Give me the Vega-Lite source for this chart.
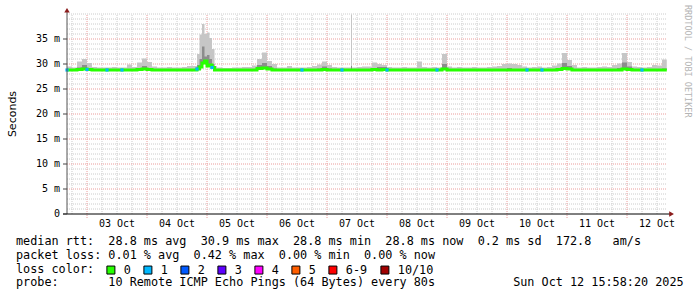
{
  "$schema": "https://vega.github.io/schema/vega-lite/v6.json",
  "width": 600,
  "height": 200,
  "autosize": {"type": "none"},
  "padding": {"left": 67, "top": 14, "right": 30, "bottom": 83},
  "background": "white",
  "config": {"view": {"stroke": null}},
  "datasets": {
    "one": [{}],
    "vmin": [
      {"t":"2025-10-02T18:00:00"},
      {"t":"2025-10-03T06:00:00"},{"t":"2025-10-03T12:00:00"},{"t":"2025-10-03T18:00:00"},
      {"t":"2025-10-04T06:00:00"},{"t":"2025-10-04T12:00:00"},{"t":"2025-10-04T18:00:00"},
      {"t":"2025-10-05T06:00:00"},{"t":"2025-10-05T12:00:00"},{"t":"2025-10-05T18:00:00"},
      {"t":"2025-10-06T06:00:00"},{"t":"2025-10-06T12:00:00"},{"t":"2025-10-06T18:00:00"},
      {"t":"2025-10-07T06:00:00"},{"t":"2025-10-07T12:00:00"},{"t":"2025-10-07T18:00:00"},
      {"t":"2025-10-08T06:00:00"},{"t":"2025-10-08T12:00:00"},{"t":"2025-10-08T18:00:00"},
      {"t":"2025-10-09T06:00:00"},{"t":"2025-10-09T12:00:00"},{"t":"2025-10-09T18:00:00"},
      {"t":"2025-10-10T06:00:00"},{"t":"2025-10-10T12:00:00"},{"t":"2025-10-10T18:00:00"},
      {"t":"2025-10-11T06:00:00"},{"t":"2025-10-11T12:00:00"},{"t":"2025-10-11T18:00:00"},
      {"t":"2025-10-12T06:00:00"},{"t":"2025-10-12T12:00:00"}
    ],
    "vmaj": [
      {"t":"2025-10-03T00:00:00"},{"t":"2025-10-04T00:00:00"},{"t":"2025-10-05T00:00:00"},{"t":"2025-10-06T00:00:00"},{"t":"2025-10-07T00:00:00"},
      {"t":"2025-10-08T00:00:00"},{"t":"2025-10-09T00:00:00"},{"t":"2025-10-10T00:00:00"},{"t":"2025-10-11T00:00:00"},{"t":"2025-10-12T00:00:00"}
    ],
    "hmin": [
      {"v":1},{"v":2},{"v":3},{"v":4},{"v":6},{"v":7},{"v":8},{"v":9},{"v":11},{"v":12},{"v":13},{"v":14},
      {"v":16},{"v":17},{"v":18},{"v":19},{"v":21},{"v":22},{"v":23},{"v":24},{"v":26},{"v":27},{"v":28},{"v":29},
      {"v":31},{"v":32},{"v":33},{"v":34},{"v":36},{"v":37},{"v":38},{"v":39},{"v":40}
    ],
    "hmaj": [{"v":5},{"v":10},{"v":15},{"v":20},{"v":25},{"v":30},{"v":35}],
    "xlab": [
      {"t":"2025-10-03T12:00:00","label":"03 Oct"},{"t":"2025-10-04T12:00:00","label":"04 Oct"},{"t":"2025-10-05T12:00:00","label":"05 Oct"},
      {"t":"2025-10-06T12:00:00","label":"06 Oct"},{"t":"2025-10-07T12:00:00","label":"07 Oct"},{"t":"2025-10-08T12:00:00","label":"08 Oct"},
      {"t":"2025-10-09T12:00:00","label":"09 Oct"},{"t":"2025-10-10T12:00:00","label":"10 Oct"},{"t":"2025-10-11T12:00:00","label":"11 Oct"},
      {"t":"2025-10-12T12:00:00","label":"12 Oct"}
    ],
    "ylab": [
      {"v":0,"label":"0"},{"v":5,"label":"5 m"},{"v":10,"label":"10 m"},{"v":15,"label":"15 m"},
      {"v":20,"label":"20 m"},{"v":25,"label":"25 m"},{"v":30,"label":"30 m"},{"v":35,"label":"35 m"}
    ],
    "main": [
      {"t":"2025-10-02T16:00:00","med":28.8,"hi":29.5,"hi2":28.8,"loss":"1"},
      {"t":"2025-10-02T18:00:00","med":28.8,"hi":29.3,"hi2":28.8,"loss":"0"},
      {"t":"2025-10-02T20:00:00","med":28.9,"hi":30.5,"hi2":29.3,"loss":"0"},
      {"t":"2025-10-02T22:00:00","med":29.0,"hi":31.0,"hi2":29.8,"loss":"0"},
      {"t":"2025-10-03T00:00:00","med":28.9,"hi":30.2,"hi2":29.2,"loss":"1"},
      {"t":"2025-10-03T02:00:00","med":28.8,"hi":29.4,"hi2":28.8,"loss":"0"},
      {"t":"2025-10-03T04:00:00","med":28.8,"hi":29.3,"hi2":28.8,"loss":"0"},
      {"t":"2025-10-03T06:00:00","med":28.8,"hi":29.3,"hi2":28.8,"loss":"0"},
      {"t":"2025-10-03T08:00:00","med":28.8,"hi":29.3,"hi2":28.8,"loss":"1"},
      {"t":"2025-10-03T10:00:00","med":28.8,"hi":29.4,"hi2":28.8,"loss":"0"},
      {"t":"2025-10-03T12:00:00","med":28.8,"hi":29.3,"hi2":28.8,"loss":"0"},
      {"t":"2025-10-03T14:00:00","med":28.8,"hi":29.3,"hi2":28.8,"loss":"1"},
      {"t":"2025-10-03T16:00:00","med":28.8,"hi":29.9,"hi2":28.8,"loss":"0"},
      {"t":"2025-10-03T18:00:00","med":28.8,"hi":29.4,"hi2":28.8,"loss":"0"},
      {"t":"2025-10-03T20:00:00","med":28.9,"hi":30.3,"hi2":29.2,"loss":"0"},
      {"t":"2025-10-03T22:00:00","med":29.0,"hi":31.1,"hi2":29.6,"loss":"0"},
      {"t":"2025-10-04T00:00:00","med":28.9,"hi":30.4,"hi2":29.2,"loss":"0"},
      {"t":"2025-10-04T02:00:00","med":28.8,"hi":29.5,"hi2":28.8,"loss":"0"},
      {"t":"2025-10-04T04:00:00","med":28.8,"hi":29.3,"hi2":28.8,"loss":"0"},
      {"t":"2025-10-04T06:00:00","med":28.8,"hi":29.3,"hi2":28.8,"loss":"0"},
      {"t":"2025-10-04T08:00:00","med":28.8,"hi":29.4,"hi2":28.8,"loss":"0"},
      {"t":"2025-10-04T10:00:00","med":28.8,"hi":29.3,"hi2":28.8,"loss":"0"},
      {"t":"2025-10-04T12:00:00","med":28.8,"hi":29.3,"hi2":28.8,"loss":"0"},
      {"t":"2025-10-04T14:00:00","med":28.8,"hi":29.4,"hi2":28.8,"loss":"0"},
      {"t":"2025-10-04T16:00:00","med":28.8,"hi":29.6,"hi2":28.8,"loss":"0"},
      {"t":"2025-10-04T18:00:00","med":28.8,"hi":29.6,"hi2":28.8,"loss":"0"},
      {"t":"2025-10-04T20:00:00","med":29.0,"hi":32.0,"hi2":29.8,"loss":"1"},
      {"t":"2025-10-04T21:00:00","med":29.4,"hi":35.9,"hi2":31.0,"loss":"0"},
      {"t":"2025-10-04T22:00:00","med":30.2,"hi":38.0,"hi2":33.5,"loss":"0"},
      {"t":"2025-10-04T23:00:00","med":30.6,"hi":36.0,"hi2":31.5,"loss":"0"},
      {"t":"2025-10-05T00:00:00","med":29.6,"hi":36.3,"hi2":31.8,"loss":"0"},
      {"t":"2025-10-05T01:00:00","med":29.8,"hi":35.2,"hi2":31.0,"loss":"0"},
      {"t":"2025-10-05T02:00:00","med":29.3,"hi":33.0,"hi2":30.0,"loss":"1"},
      {"t":"2025-10-05T03:00:00","med":28.8,"hi":29.6,"hi2":28.8,"loss":"0"},
      {"t":"2025-10-05T04:00:00","med":28.8,"hi":29.3,"hi2":28.8,"loss":"0"},
      {"t":"2025-10-05T06:00:00","med":28.8,"hi":29.2,"hi2":28.8,"loss":"0"},
      {"t":"2025-10-05T08:00:00","med":28.8,"hi":29.2,"hi2":28.8,"loss":"0"},
      {"t":"2025-10-05T10:00:00","med":28.8,"hi":29.3,"hi2":28.8,"loss":"0"},
      {"t":"2025-10-05T12:00:00","med":28.8,"hi":29.3,"hi2":28.8,"loss":"0"},
      {"t":"2025-10-05T14:00:00","med":28.8,"hi":29.4,"hi2":28.8,"loss":"0"},
      {"t":"2025-10-05T16:00:00","med":28.8,"hi":29.4,"hi2":28.8,"loss":"0"},
      {"t":"2025-10-05T18:00:00","med":28.8,"hi":29.7,"hi2":28.8,"loss":"0"},
      {"t":"2025-10-05T20:00:00","med":29.1,"hi":31.0,"hi2":29.8,"loss":"0"},
      {"t":"2025-10-05T22:00:00","med":29.2,"hi":32.3,"hi2":30.2,"loss":"0"},
      {"t":"2025-10-06T00:00:00","med":29.0,"hi":30.6,"hi2":29.6,"loss":"0"},
      {"t":"2025-10-06T02:00:00","med":28.8,"hi":30.0,"hi2":29.1,"loss":"0"},
      {"t":"2025-10-06T04:00:00","med":28.8,"hi":29.3,"hi2":28.8,"loss":"0"},
      {"t":"2025-10-06T06:00:00","med":28.8,"hi":29.3,"hi2":28.8,"loss":"0"},
      {"t":"2025-10-06T08:00:00","med":28.8,"hi":29.6,"hi2":28.8,"loss":"0"},
      {"t":"2025-10-06T10:00:00","med":28.8,"hi":29.3,"hi2":28.8,"loss":"0"},
      {"t":"2025-10-06T12:00:00","med":28.8,"hi":29.3,"hi2":28.8,"loss":"0"},
      {"t":"2025-10-06T14:00:00","med":28.8,"hi":29.3,"hi2":28.8,"loss":"1"},
      {"t":"2025-10-06T16:00:00","med":28.8,"hi":29.4,"hi2":28.8,"loss":"0"},
      {"t":"2025-10-06T18:00:00","med":28.8,"hi":29.6,"hi2":28.8,"loss":"0"},
      {"t":"2025-10-06T20:00:00","med":28.8,"hi":29.9,"hi2":29.1,"loss":"0"},
      {"t":"2025-10-06T22:00:00","med":28.9,"hi":30.5,"hi2":29.5,"loss":"0"},
      {"t":"2025-10-07T00:00:00","med":28.8,"hi":29.8,"hi2":29.1,"loss":"0"},
      {"t":"2025-10-07T02:00:00","med":28.8,"hi":29.4,"hi2":28.8,"loss":"0"},
      {"t":"2025-10-07T04:00:00","med":28.8,"hi":29.3,"hi2":28.8,"loss":"0"},
      {"t":"2025-10-07T06:00:00","med":28.8,"hi":29.3,"hi2":28.8,"loss":"1"},
      {"t":"2025-10-07T08:00:00","med":28.8,"hi":29.3,"hi2":28.8,"loss":"0"},
      {"t":"2025-10-07T09:36:00","med":28.8,"hi":39.9,"hi2":29.6,"loss":"0"},
      {"t":"2025-10-07T10:00:00","med":28.8,"hi":29.3,"hi2":28.8,"loss":"0"},
      {"t":"2025-10-07T12:00:00","med":28.8,"hi":29.4,"hi2":28.8,"loss":"0"},
      {"t":"2025-10-07T14:00:00","med":28.8,"hi":29.5,"hi2":28.8,"loss":"0"},
      {"t":"2025-10-07T16:00:00","med":28.8,"hi":29.5,"hi2":28.8,"loss":"0"},
      {"t":"2025-10-07T18:00:00","med":28.9,"hi":30.3,"hi2":29.2,"loss":"0"},
      {"t":"2025-10-07T20:00:00","med":28.8,"hi":30.0,"hi2":29.4,"loss":"0"},
      {"t":"2025-10-07T22:00:00","med":28.9,"hi":29.8,"hi2":29.4,"loss":"0"},
      {"t":"2025-10-08T00:00:00","med":28.8,"hi":29.4,"hi2":28.8,"loss":"1"},
      {"t":"2025-10-08T02:00:00","med":28.8,"hi":29.3,"hi2":28.8,"loss":"0"},
      {"t":"2025-10-08T04:00:00","med":28.8,"hi":29.3,"hi2":28.8,"loss":"0"},
      {"t":"2025-10-08T06:00:00","med":28.8,"hi":29.4,"hi2":28.8,"loss":"0"},
      {"t":"2025-10-08T08:00:00","med":28.8,"hi":29.3,"hi2":28.8,"loss":"0"},
      {"t":"2025-10-08T10:00:00","med":28.8,"hi":29.3,"hi2":28.8,"loss":"0"},
      {"t":"2025-10-08T12:00:00","med":28.8,"hi":30.5,"hi2":28.8,"loss":"0"},
      {"t":"2025-10-08T14:00:00","med":28.8,"hi":29.4,"hi2":28.8,"loss":"0"},
      {"t":"2025-10-08T16:00:00","med":28.8,"hi":29.3,"hi2":28.8,"loss":"0"},
      {"t":"2025-10-08T18:00:00","med":28.8,"hi":29.4,"hi2":28.8,"loss":"0"},
      {"t":"2025-10-08T20:00:00","med":28.8,"hi":29.3,"hi2":28.8,"loss":"1"},
      {"t":"2025-10-08T22:00:00","med":29.0,"hi":32.0,"hi2":30.0,"loss":"0"},
      {"t":"2025-10-09T00:00:00","med":28.8,"hi":29.5,"hi2":28.8,"loss":"0"},
      {"t":"2025-10-09T02:00:00","med":28.8,"hi":29.3,"hi2":28.8,"loss":"0"},
      {"t":"2025-10-09T04:00:00","med":28.8,"hi":29.4,"hi2":28.8,"loss":"0"},
      {"t":"2025-10-09T06:00:00","med":28.8,"hi":29.3,"hi2":28.8,"loss":"0"},
      {"t":"2025-10-09T08:00:00","med":28.8,"hi":29.3,"hi2":28.8,"loss":"0"},
      {"t":"2025-10-09T10:00:00","med":28.8,"hi":29.4,"hi2":28.8,"loss":"0"},
      {"t":"2025-10-09T12:00:00","med":28.8,"hi":29.3,"hi2":28.8,"loss":"0"},
      {"t":"2025-10-09T14:00:00","med":28.8,"hi":29.3,"hi2":28.8,"loss":"0"},
      {"t":"2025-10-09T16:00:00","med":28.8,"hi":29.4,"hi2":28.8,"loss":"0"},
      {"t":"2025-10-09T18:00:00","med":28.8,"hi":29.5,"hi2":28.8,"loss":"0"},
      {"t":"2025-10-09T20:00:00","med":28.8,"hi":29.6,"hi2":28.8,"loss":"0"},
      {"t":"2025-10-09T22:00:00","med":28.8,"hi":30.0,"hi2":28.8,"loss":"0"},
      {"t":"2025-10-10T00:00:00","med":28.8,"hi":30.1,"hi2":29.2,"loss":"0"},
      {"t":"2025-10-10T02:00:00","med":28.8,"hi":30.0,"hi2":28.8,"loss":"0"},
      {"t":"2025-10-10T04:00:00","med":28.8,"hi":29.8,"hi2":28.8,"loss":"0"},
      {"t":"2025-10-10T06:00:00","med":28.8,"hi":29.5,"hi2":28.8,"loss":"0"},
      {"t":"2025-10-10T08:00:00","med":28.8,"hi":29.3,"hi2":28.8,"loss":"1"},
      {"t":"2025-10-10T10:00:00","med":28.8,"hi":29.4,"hi2":28.8,"loss":"0"},
      {"t":"2025-10-10T12:00:00","med":28.8,"hi":29.5,"hi2":28.8,"loss":"0"},
      {"t":"2025-10-10T14:00:00","med":28.8,"hi":29.3,"hi2":28.8,"loss":"1"},
      {"t":"2025-10-10T16:00:00","med":28.8,"hi":29.4,"hi2":28.8,"loss":"0"},
      {"t":"2025-10-10T18:00:00","med":28.8,"hi":29.7,"hi2":28.8,"loss":"0"},
      {"t":"2025-10-10T20:00:00","med":28.9,"hi":30.1,"hi2":29.2,"loss":"0"},
      {"t":"2025-10-10T22:00:00","med":29.1,"hi":32.2,"hi2":30.2,"loss":"0"},
      {"t":"2025-10-11T00:00:00","med":29.0,"hi":30.8,"hi2":29.6,"loss":"0"},
      {"t":"2025-10-11T02:00:00","med":28.8,"hi":29.8,"hi2":28.8,"loss":"0"},
      {"t":"2025-10-11T04:00:00","med":28.8,"hi":29.3,"hi2":28.8,"loss":"0"},
      {"t":"2025-10-11T06:00:00","med":28.8,"hi":29.4,"hi2":28.8,"loss":"0"},
      {"t":"2025-10-11T08:00:00","med":28.8,"hi":29.3,"hi2":28.8,"loss":"0"},
      {"t":"2025-10-11T10:00:00","med":28.8,"hi":29.3,"hi2":28.8,"loss":"0"},
      {"t":"2025-10-11T12:00:00","med":28.8,"hi":29.4,"hi2":28.8,"loss":"0"},
      {"t":"2025-10-11T14:00:00","med":28.8,"hi":29.5,"hi2":28.8,"loss":"0"},
      {"t":"2025-10-11T16:00:00","med":28.8,"hi":29.4,"hi2":28.8,"loss":"0"},
      {"t":"2025-10-11T18:00:00","med":28.8,"hi":29.8,"hi2":28.8,"loss":"0"},
      {"t":"2025-10-11T20:00:00","med":28.8,"hi":30.1,"hi2":29.2,"loss":"0"},
      {"t":"2025-10-11T22:00:00","med":29.0,"hi":32.2,"hi2":30.3,"loss":"0"},
      {"t":"2025-10-12T00:00:00","med":28.9,"hi":30.4,"hi2":29.5,"loss":"0"},
      {"t":"2025-10-12T02:00:00","med":28.8,"hi":29.5,"hi2":28.8,"loss":"0"},
      {"t":"2025-10-12T04:00:00","med":28.8,"hi":29.4,"hi2":28.8,"loss":"0"},
      {"t":"2025-10-12T06:00:00","med":28.8,"hi":29.3,"hi2":28.8,"loss":"1"},
      {"t":"2025-10-12T08:00:00","med":28.8,"hi":29.4,"hi2":28.8,"loss":"0"},
      {"t":"2025-10-12T10:00:00","med":28.8,"hi":29.8,"hi2":28.8,"loss":"0"},
      {"t":"2025-10-12T12:00:00","med":28.8,"hi":29.7,"hi2":28.8,"loss":"0"},
      {"t":"2025-10-12T14:00:00","med":28.8,"hi":30.9,"hi2":29.1,"loss":"0"},
      {"t":"2025-10-12T15:55:00","med":28.8,"hi":29.5,"hi2":28.8,"loss":"0"}
    ]
  },
  "data": {"name": "main"},
  "layer": [
    {
      "data": {"name": "vmin"},
      "mark": {"type": "rule", "color": "#cccccc", "strokeWidth": 1, "strokeDash": [1, 1]},
      "encoding": {
        "x": {"field": "t", "type": "temporal", "axis": null,
          "scale": {"nice": false, "domain": [{"year": 2025, "month": 10, "date": 2, "hours": 16}, {"year": 2025, "month": 10, "date": 12, "hours": 16}]}},
        "y": {"datum": 0, "type": "quantitative", "axis": null, "scale": {"domain": [0, 40], "nice": false}},
        "y2": {"datum": 40}
      }
    },
    {
      "data": {"name": "hmin"},
      "mark": {"type": "rule", "color": "#cccccc", "strokeWidth": 1, "strokeDash": [1, 1]},
      "encoding": {
        "y": {"field": "v", "type": "quantitative", "axis": null},
        "x": {"datum": {"year": 2025, "month": 10, "date": 2, "hours": 16}, "type": "temporal", "axis": null},
        "x2": {"datum": {"year": 2025, "month": 10, "date": 12, "hours": 16}}
      }
    },
    {
      "data": {"name": "vmaj"},
      "mark": {"type": "rule", "color": "#eb9c9c", "strokeWidth": 1, "strokeDash": [1, 1]},
      "encoding": {
        "x": {"field": "t", "type": "temporal", "axis": null},
        "y": {"datum": -0.8, "type": "quantitative", "axis": null},
        "y2": {"datum": 40}
      }
    },
    {
      "data": {"name": "hmaj"},
      "mark": {"type": "rule", "color": "#eb9c9c", "strokeWidth": 1, "strokeDash": [1, 1]},
      "encoding": {
        "y": {"field": "v", "type": "quantitative", "axis": null},
        "x": {"datum": {"year": 2025, "month": 10, "date": 2, "hours": 16}, "type": "temporal", "axis": null},
        "x2": {"datum": {"year": 2025, "month": 10, "date": 12, "hours": 16}}
      }
    },
    {
      "mark": {"type": "area", "interpolate": "step-after", "color": "#c6c6c6", "opacity": 1},
      "encoding": {
        "x": {"field": "t", "type": "temporal", "axis": null},
        "y": {"field": "hi", "type": "quantitative", "axis": null},
        "y2": {"field": "med"}
      }
    },
    {
      "mark": {"type": "area", "interpolate": "step-after", "color": "#8c8c8c", "opacity": 1},
      "encoding": {
        "x": {"field": "t", "type": "temporal", "axis": null},
        "y": {"field": "hi2", "type": "quantitative", "axis": null},
        "y2": {"field": "med"}
      }
    },
    {
      "mark": {"type": "line", "interpolate": "step-after", "color": "#26ff00", "strokeWidth": 3},
      "encoding": {
        "x": {"field": "t", "type": "temporal", "axis": null},
        "y": {"field": "med", "type": "quantitative", "axis": null}
      }
    },
    {
      "transform": [{"filter": "datum.loss != '0'"}],
      "mark": {"type": "point", "shape": "square", "filled": true, "size": 10, "opacity": 1},
      "encoding": {
        "x": {"field": "t", "type": "temporal", "axis": null},
        "y": {"field": "med", "type": "quantitative", "axis": null},
        "color": {"field": "loss", "type": "nominal",
          "scale": {"domain": ["0", "1", "2", "3", "4", "5", "6-9", "10/10"], "range": ["#26ff00", "#00b8ff", "#0059ff", "#5e00ff", "#ff00ff", "#ff5e00", "#ff0000", "#a10000"]},
          "legend": {"orient": "none", "legendX": 38, "legendY": 250, "direction": "horizontal",
            "title": null,
            "labelFont": "DejaVu Sans Mono", "labelFontSize": 11.8, "labelColor": "#000000", "labelOffset": 7, "columnPadding": 10,
            "symbolType": "square", "symbolSize": 64, "symbolStrokeColor": "#000000", "symbolStrokeWidth": 1, "symbolOpacity": 1,
            "padding": 0, "offset": 0}}
      }
    },
    {
      "data": {"name": "one"},
      "mark": {"type": "rule", "color": "#555555", "strokeWidth": 1},
      "encoding": {
        "x": {"datum": {"year": 2025, "month": 10, "date": 2, "hours": 16}, "type": "temporal", "axis": null},
        "y": {"datum": 0, "type": "quantitative", "axis": null},
        "y2": {"datum": 40.6}
      }
    },
    {
      "data": {"name": "one"},
      "mark": {"type": "rule", "color": "#000000", "strokeWidth": 1},
      "encoding": {
        "x": {"datum": {"year": 2025, "month": 10, "date": 2, "hours": 14, "minutes": 24}, "type": "temporal", "axis": null},
        "x2": {"datum": {"year": 2025, "month": 10, "date": 12, "hours": 17, "minutes": 30}},
        "y": {"datum": 0, "type": "quantitative", "axis": null}
      }
    },
    {
      "data": {"name": "ylab"},
      "mark": {"type": "rule", "color": "#444444", "strokeWidth": 1},
      "encoding": {
        "y": {"field": "v", "type": "quantitative", "axis": null},
        "x": {"datum": {"year": 2025, "month": 10, "date": 2, "hours": 14, "minutes": 24}, "type": "temporal", "axis": null},
        "x2": {"datum": {"year": 2025, "month": 10, "date": 2, "hours": 16}}
      }
    },
    {
      "data": {"name": "one"},
      "mark": {"type": "point", "shape": "triangle-up", "filled": true, "size": 30, "color": "#8b1c1c", "opacity": 1},
      "encoding": {
        "x": {"datum": {"year": 2025, "month": 10, "date": 2, "hours": 16}, "type": "temporal", "axis": null},
        "y": {"datum": 40.75, "type": "quantitative", "axis": null}
      }
    },
    {
      "data": {"name": "one"},
      "mark": {"type": "point", "shape": "triangle-right", "filled": true, "size": 30, "color": "#8b1c1c", "opacity": 1},
      "encoding": {
        "x": {"datum": {"year": 2025, "month": 10, "date": 12, "hours": 17, "minutes": 50}, "type": "temporal", "axis": null},
        "y": {"datum": 0, "type": "quantitative", "axis": null}
      }
    },
    {
      "data": {"name": "ylab"},
      "mark": {"type": "text", "align": "right", "baseline": "middle", "dx": -7, "font": "DejaVu Sans Mono", "fontSize": 10, "color": "#000000"},
      "encoding": {
        "y": {"field": "v", "type": "quantitative", "axis": null},
        "x": {"datum": {"year": 2025, "month": 10, "date": 2, "hours": 16}, "type": "temporal", "axis": null},
        "text": {"field": "label"}
      }
    },
    {
      "data": {"name": "xlab"},
      "mark": {"type": "text", "align": "center", "baseline": "middle", "dy": 10, "font": "DejaVu Sans Mono", "fontSize": 10, "color": "#000000"},
      "encoding": {
        "x": {"field": "t", "type": "temporal", "axis": null},
        "y": {"datum": 0, "type": "quantitative", "axis": null},
        "text": {"field": "label"}
      }
    },
    {
      "data": {"name": "one"},
      "mark": {"type": "text", "align": "center", "baseline": "alphabetic", "angle": 270, "dy": -51, "font": "DejaVu Sans", "fontSize": 11, "color": "#000000"},
      "encoding": {
        "x": {"datum": {"year": 2025, "month": 10, "date": 2, "hours": 16}, "type": "temporal", "axis": null},
        "y": {"datum": 20, "type": "quantitative", "axis": null},
        "text": {"value": "Seconds"}
      }
    },
    {
      "data": {"name": "one"},
      "mark": {"type": "text", "align": "left", "baseline": "alphabetic", "angle": 90, "dx": -9, "dy": -18, "font": "DejaVu Sans Mono", "fontSize": 8.5, "color": "#b4b4b4"},
      "encoding": {
        "x": {"datum": {"year": 2025, "month": 10, "date": 12, "hours": 16}, "type": "temporal", "axis": null},
        "y": {"datum": 40, "type": "quantitative", "axis": null},
        "text": {"value": "RRDTOOL / TOBI OETIKER"}
      }
    },
    {
      "data": {"name": "one"},
      "mark": {"type": "text", "align": "left", "baseline": "alphabetic", "dx": -51, "dy": 31, "font": "DejaVu Sans Mono", "fontSize": 11.8, "color": "#000000"},
      "encoding": {
        "x": {"datum": {"year": 2025, "month": 10, "date": 2, "hours": 16}, "type": "temporal", "axis": null},
        "y": {"datum": 0, "type": "quantitative", "axis": null},
        "text": {"value": "median\u00a0rtt:\u00a0\u00a028.8\u00a0ms\u00a0avg\u00a0\u00a030.9\u00a0ms\u00a0max\u00a0\u00a028.8\u00a0ms\u00a0min\u00a0\u00a028.8\u00a0ms\u00a0now\u00a0\u00a00.2\u00a0ms\u00a0sd\u00a0\u00a0172.8\u00a0\u00a0\u00a0am/s"}
      }
    },
    {
      "data": {"name": "one"},
      "mark": {"type": "text", "align": "left", "baseline": "alphabetic", "dx": -51, "dy": 44.8, "font": "DejaVu Sans Mono", "fontSize": 11.8, "color": "#000000"},
      "encoding": {
        "x": {"datum": {"year": 2025, "month": 10, "date": 2, "hours": 16}, "type": "temporal", "axis": null},
        "y": {"datum": 0, "type": "quantitative", "axis": null},
        "text": {"value": "packet\u00a0loss:\u00a00.01\u00a0%\u00a0avg\u00a0\u00a00.42\u00a0%\u00a0max\u00a0\u00a00.00\u00a0%\u00a0min\u00a0\u00a00.00\u00a0%\u00a0now"}
      }
    },
    {
      "data": {"name": "one"},
      "mark": {"type": "text", "align": "left", "baseline": "alphabetic", "dx": -51, "dy": 58.6, "font": "DejaVu Sans Mono", "fontSize": 11.8, "color": "#000000"},
      "encoding": {
        "x": {"datum": {"year": 2025, "month": 10, "date": 2, "hours": 16}, "type": "temporal", "axis": null},
        "y": {"datum": 0, "type": "quantitative", "axis": null},
        "text": {"value": "loss\u00a0color:"}
      }
    },
    {
      "data": {"name": "one"},
      "mark": {"type": "text", "align": "left", "baseline": "alphabetic", "dx": -51, "dy": 72.4, "font": "DejaVu Sans Mono", "fontSize": 11.8, "color": "#000000"},
      "encoding": {
        "x": {"datum": {"year": 2025, "month": 10, "date": 2, "hours": 16}, "type": "temporal", "axis": null},
        "y": {"datum": 0, "type": "quantitative", "axis": null},
        "text": {"value": "probe:\u00a0\u00a0\u00a0\u00a0\u00a0\u00a0\u00a010\u00a0Remote\u00a0ICMP\u00a0Echo\u00a0Pings\u00a0(64\u00a0Bytes)\u00a0every\u00a080s\u00a0\u00a0\u00a0\u00a0\u00a0\u00a0\u00a0\u00a0\u00a0\u00a0\u00a0Sun\u00a0Oct\u00a012\u00a015:58:20\u00a02025"}
      }
    }
  ]
}
